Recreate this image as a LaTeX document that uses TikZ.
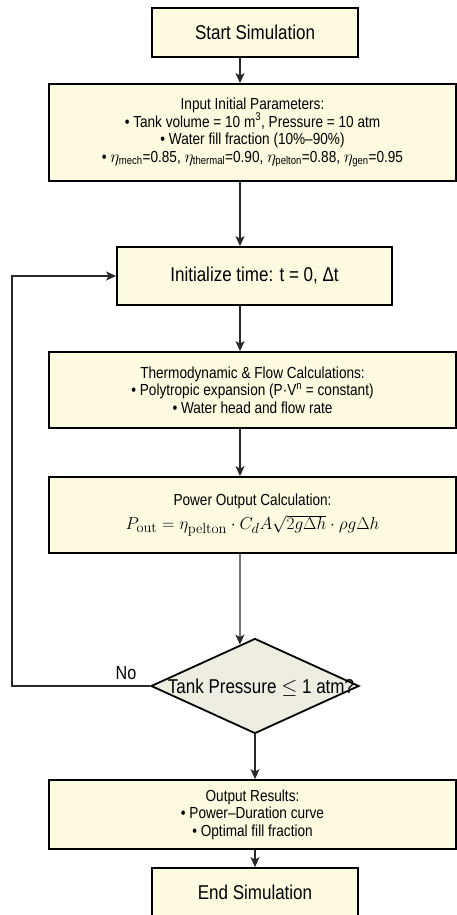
\documentclass[tikz,border=0pt]{standalone}
\usepackage{amsmath}
\usepackage[no-math]{fontspec}
\setmainfont{Liberation Sans}[FakeStretch=0.85]
\usetikzlibrary{shapes.geometric,arrows.meta,calc}
\definecolor{boxfill}{RGB}{252,250,223}
\definecolor{diafill}{RGB}{237,237,226}
\definecolor{linecol}{RGB}{40,40,40}
\begin{document}
\begin{tikzpicture}[x=1pt,y=-1pt,
  box/.style={draw=black, line width=1.8pt, fill=boxfill, inner sep=0pt, align=center, anchor=center},
  bigtext/.style={font=\fontsize{20}{22}\selectfont},
  smalltext/.style={font=\fontsize{16}{17.5}\selectfont},
  conn/.style={draw=linecol, line width=1.3pt, -{Stealth[length=10pt,width=9pt,inset=2.5pt]}},
]
\useasboundingbox (0,0) rectangle (457,915);
\fill[white] (0,0) rectangle (457,915);
\coordinate (ax) at (240,0);
\coordinate (lp) at (12,0);

\node[box,bigtext,minimum width=206pt,minimum height=49pt] (start) at (255,32.5) {Start Simulation};

\node[box,smalltext,minimum width=407pt,minimum height=97pt] (input) at (252.5,132.5)
 {Input Initial Parameters:\\
  • Tank volume = 10 m\textsuperscript{3}, Pressure = 10 atm\\
  • Water fill fraction (10\%–90\%)\\
  • $\eta_{\text{mech}}$=0.85, $\eta_{\text{thermal}}$=0.90, $\eta_{\text{pelton}}$=0.88, $\eta_{\text{gen}}$=0.95};

\node[box,bigtext,minimum width=275pt,minimum height=58pt] (init) at (254.5,276) {Initialize time: t = 0, Δt};

\node[box,smalltext,minimum width=407pt,minimum height=76pt] (thermo) at (252.5,390)
 {Thermodynamic \& Flow Calculations:\\
  • Polytropic expansion (P·V\textsuperscript{n} = constant)\\
  • Water head and flow rate};

\node[box,smalltext,minimum width=407pt,minimum height=76pt] (power) at (252.5,515)
 {Power Output Calculation:\\[6pt]
  {\fontsize{19}{21}\selectfont $P_{\mathrm{out}} = \eta_{\mathrm{pelton}}\cdot C_d A\sqrt{2g\Delta h}\cdot\rho g\Delta h$}};

\node[diamond, draw=black, line width=1.8pt, fill=diafill, inner sep=0pt,
      minimum width=208pt, minimum height=95pt] (dia) at (255,686) {};
\node[bigtext, inner sep=0pt] (diatext) at (261,688) {Tank Pressure $\leq$ 1 atm?};

\node[box,smalltext,minimum width=407pt,minimum height=69pt] (output) at (252.5,814.5)
 {Output Results:\\
  • Power–Duration curve\\
  • Optimal fill fraction};

\node[box,bigtext,minimum width=206pt,minimum height=49pt] (end) at (255,892.5) {End Simulation};

\node[font=\fontsize{19}{21}\selectfont, inner sep=0pt] (nolabel) at (126,673) {No};

\draw[conn] (start.south -| ax) -- (input.north -| ax);
\draw[conn] (input.south -| ax) -- (init.north -| ax);
\draw[conn] (init.south -| ax) -- (thermo.north -| ax);
\draw[conn] (thermo.south -| ax) -- (power.north -| ax);
\draw[conn] (power.south -| ax) -- ($(dia.north)!0.144!(dia.west)$);
\draw[conn] (dia.south) -- (dia.south |- output.north);
\draw[conn] (output.south -| end.north) -- (end.north);
\draw[conn] (dia.west) -- (dia.west -| lp) |- (init.west);
\end{tikzpicture}
\end{document}
